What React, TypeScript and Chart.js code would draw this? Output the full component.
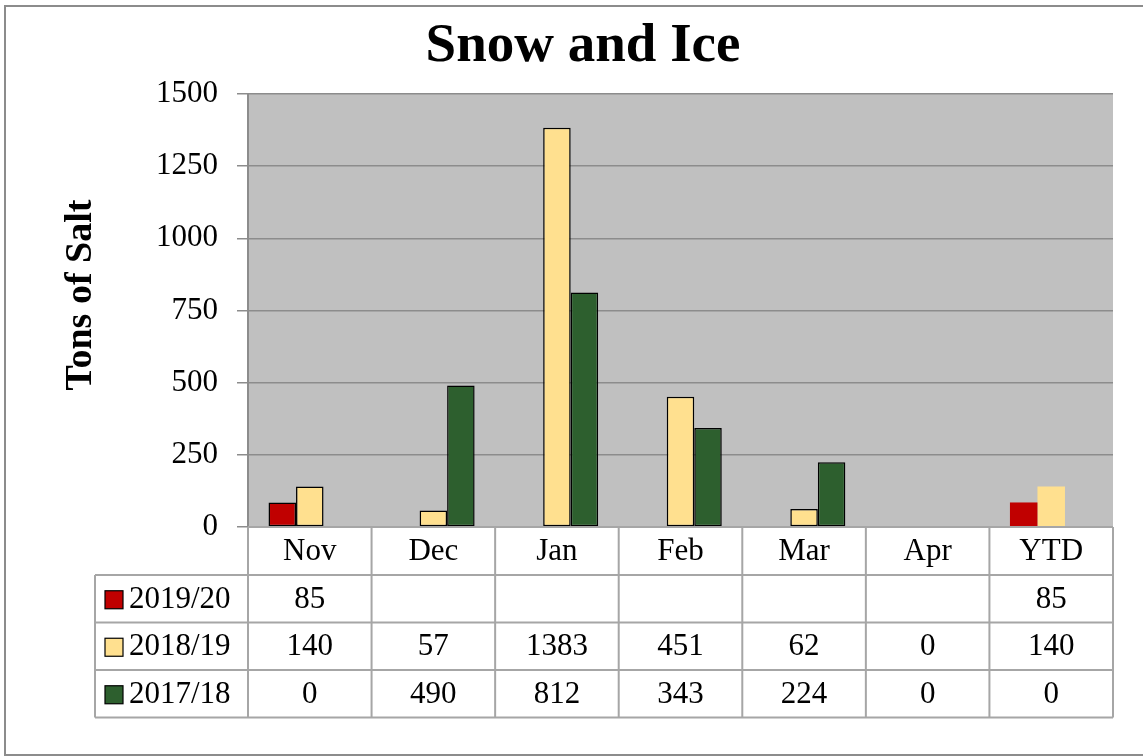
import React, { useEffect, useRef } from "react";
import { Chart, registerables } from "chart.js";

Chart.register(...registerables);

const categories = ["Nov", "Dec", "Jan", "Feb", "Mar", "Apr", "YTD"];
const seriesNames = ["2019/20", "2018/19", "2017/18"];
const values2019 = [85, null, null, null, null, null, 85];
const values2018 = [140, 57, 1383, 451, 62, 0, 140];
const values2017 = [0, 490, 812, 343, 224, 0, 0];
const seriesColors = ["#C00000", "#FFE08F", "#2D5F2E"];
const chartTitle = "Snow and Ice";
const yAxisTitle = "Tons of Salt";

const FONT = "'Liberation Serif', 'Times New Roman', serif";

const tablePlugin = {
  id: "excelTable",
  beforeDraw(chart: any) {
    const { ctx, chartArea, width, height } = chart;
    ctx.save();
    ctx.fillStyle = "#ffffff";
    ctx.fillRect(0, 0, width, height);
    ctx.strokeStyle = "#8c8c8c";
    ctx.lineWidth = 2;
    ctx.strokeRect(5, 6, width + 20, height - 7);
    ctx.fillStyle = "#c0c0c0";
    ctx.fillRect(chartArea.left, chartArea.top, chartArea.right - chartArea.left, chartArea.bottom - chartArea.top);
    ctx.restore();
  },
  afterDraw(chart: any) {
    const { ctx, chartArea } = chart;
    const x = chart.scales.x;
    const n = categories.length;
    const colW = (chartArea.right - chartArea.left) / n;
    const top = chartArea.bottom;
    const headH = 48;
    const rowH = 47.5;
    const legendLeft = 95;
    ctx.save();

    // Title
    ctx.fillStyle = "#000";
    ctx.font = `bold 55px ${FONT}`;
    ctx.textAlign = "center";
    ctx.textBaseline = "alphabetic";
    ctx.fillText(chartTitle, 583, 61);

    // Y axis title
    ctx.save();
    ctx.translate(91, 295);
    ctx.rotate(-Math.PI / 2);
    ctx.font = `bold 38px ${FONT}`;
    ctx.textAlign = "center";
    ctx.textBaseline = "alphabetic";
    ctx.fillText(yAxisTitle, 0, 0);
    ctx.restore();

    // Table grid
    ctx.strokeStyle = "#a6a6a6";
    ctx.lineWidth = 2;
    ctx.beginPath();
    const bottom = top + headH + rowH * 3;
    ctx.moveTo(chartArea.left, top);
    ctx.lineTo(chartArea.right, top);
    for (let r = 0; r <= 3; r++) {
      const y = top + headH + rowH * r;
      ctx.moveTo(legendLeft, y);
      ctx.lineTo(chartArea.right, y);
    }
    ctx.moveTo(legendLeft, top + headH);
    ctx.lineTo(legendLeft, bottom);
    for (let i = 0; i <= n; i++) {
      const cx = chartArea.left + colW * i;
      ctx.moveTo(cx, top);
      ctx.lineTo(cx, bottom);
    }
    ctx.stroke();

    // Header
    ctx.fillStyle = "#000";
    ctx.font = `31px ${FONT}`;
    ctx.textAlign = "center";
    ctx.textBaseline = "middle";
    categories.forEach((c, i) => {
      ctx.fillText(c, x.getPixelForValue(i), top + headH / 2 + 1);
    });

    // Rows
    chart.data.datasets.forEach((ds: any, r: number) => {
      const cy = top + headH + rowH * r + rowH / 2 + 1;
      ctx.fillStyle = seriesColors[r];
      ctx.fillRect(105, cy - 9, 18, 18);
      ctx.strokeStyle = "#000";
      ctx.lineWidth = 1.2;
      ctx.strokeRect(105, cy - 9, 18, 18);
      ctx.fillStyle = "#000";
      ctx.textAlign = "left";
      ctx.fillText(ds.label, 129, cy);
      ctx.textAlign = "center";
      ds.data.forEach((v: any, i: number) => {
        if (v === null || v === undefined) return;
        ctx.fillText(String(v), x.getPixelForValue(i), cy);
      });
    });
    ctx.restore();
  },
};

function borders(values: (number | null)[]) {
  return values.map((v, i) => (v ? (i === values.length - 1 ? 0 : 1.5) : 0));
}

export default function App() {
  const ref = useRef<HTMLCanvasElement | null>(null);
  useEffect(() => {
    if (!ref.current) return;
    const seriesValues = [values2019, values2018, values2017];
    const chart = new Chart(ref.current, {
      type: "bar",
      data: {
        labels: categories,
        datasets: seriesValues.map((vals, i) => ({
          label: seriesNames[i],
          data: vals,
          backgroundColor: seriesColors[i],
          borderColor: "#000000",
          borderWidth: borders(vals),
          borderSkipped: false,
          categoryPercentage: 0.668,
          barPercentage: 1.0,
        })),
      },
      options: {
        responsive: false,
        animation: false,
        layout: { padding: { top: 94, left: 0, right: 30, bottom: 229 } },
        plugins: {
          legend: { display: false },
          title: { display: false },
          tooltip: { enabled: false },
        },
        scales: {
          x: { display: false },
          y: {
            min: 0,
            max: 1500,
            ticks: {
              stepSize: 250,
              color: "#000",
              padding: 19,
              font: { family: FONT, size: 31 },
              callback: (v: any) => String(v),
            },
            grid: { color: "#8c8c8c", lineWidth: 1.5, tickLength: 11, drawTicks: true },
            border: { display: true, color: "#8c8c8c", width: 2 },
            afterFit: (scale: any) => {
              scale.width = 248;
            },
          },
        },
      },
      plugins: [tablePlugin],
    } as any);
    return () => chart.destroy();
  }, []);
  return (
    <div style={{ position: "absolute", left: 0, top: 0, width: 1143, height: 756, background: "#fff" }}>
      <canvas ref={ref} width={1143} height={756} style={{ display: "block" }} />
    </div>
  );
}
